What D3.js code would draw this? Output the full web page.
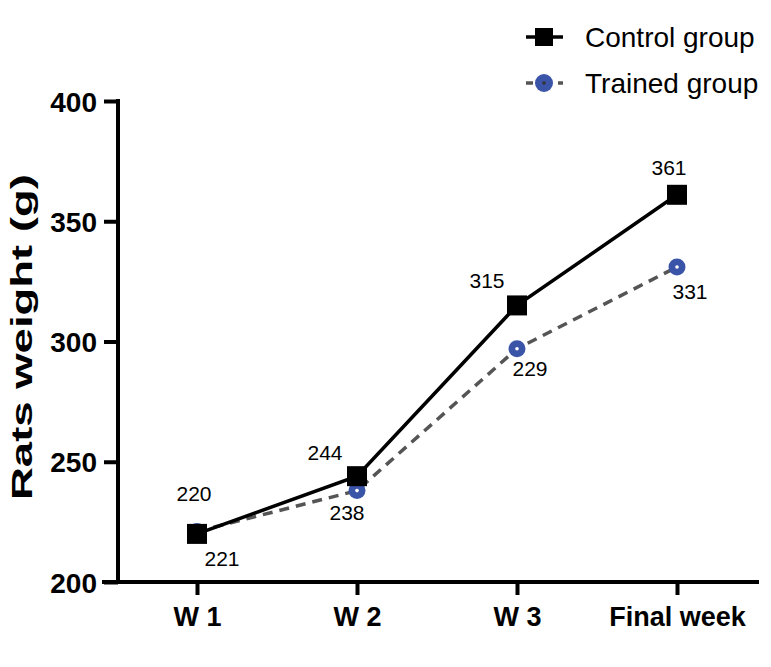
<!DOCTYPE html>
<html>
<head>
<meta charset="utf-8">
<script src="https://cdn.jsdelivr.net/npm/d3@7"></script>
<style>
  body { margin: 0; background: #fff; }
  text { font-family: "Liberation Sans", Arial, sans-serif; }
</style>
</head>
<body>
<div id="chart"></div>
<script>
// data
var weeks = ["W 1", "W 2", "W 3", "Final week"];
var controlValues = [220, 244, 315, 361];
var controlLabels = ["220", "244", "315", "361"];
var trainedValues = [221, 238, 297, 331];
var trainedLabels = ["221", "238", "229", "331"];
var yTicks = [200, 250, 300, 350, 400];

// label offsets (dx, dy) relative to point
var controlOffsets = [[-3, -40], [-32, -24], [-30, -25], [-8, -27]];
var trainedOffsets = [[25, 27], [-10, 22], [13, 20], [13, 24]];

var W = 771, H = 667;
var svg = d3.select("#chart").append("svg")
  .attr("width", W).attr("height", H);

var x = d3.scalePoint().domain(weeks).range([117, 757]).padding(0.5);
var y = d3.scaleLinear().domain([200, 400]).range([582, 101]);

//x axis
var xAxis = svg.append("g")
  .attr("transform", "translate(0,582)")
  .call(d3.axisBottom(x).tickSize(13).tickPadding(12));
xAxis.select(".domain").attr("d", "M102,0H759").attr("stroke", "#000").attr("stroke-width", 4);
xAxis.selectAll(".tick line").attr("stroke", "#000").attr("stroke-width", 4);
xAxis.selectAll(".tick text")
  .attr("fill", "#000")
  .style("font-size", "27px")
  .style("font-weight", "bold");

//y axis
var yAxis = svg.append("g")
  .attr("transform", "translate(118,0)")
  .call(d3.axisLeft(y).tickValues(yTicks).tickSize(14).tickPadding(7));
yAxis.select(".domain").attr("d", "M0,99V584").attr("stroke", "#000").attr("stroke-width", 4);
yAxis.selectAll(".tick line").attr("stroke", "#000").attr("stroke-width", 4);
yAxis.selectAll(".tick text")
  .attr("fill", "#000")
  .attr("dy", "0.36em")
  .style("font-size", "28px")
  .style("font-weight", "bold");

svg.append("text")
  .attr("transform", "translate(32,337) rotate(-90)")
  .attr("text-anchor", "middle")
  .attr("textLength", 326)
  .attr("lengthAdjust", "spacingAndGlyphs")
  .style("font-size", "30px")
  .style("font-weight", "bold")
  .text("Rats weight (g)");

var line = d3.line()
  .x(function (d, i) { return x(weeks[i]); })
  .y(function (d) { return y(d); });

// trained group
svg.append("path")
  .datum(trainedValues)
  .attr("d", line)
  .attr("fill", "none")
  .attr("stroke", "#555")
  .attr("stroke-width", 3.5)
  .attr("stroke-dasharray", "10,7");

svg.selectAll("circle.trained")
  .data(trainedValues)
  .enter().append("circle")
  .attr("class", "trained")
  .attr("cx", function (d, i) { return x(weeks[i]); })
  .attr("cy", function (d) { return y(d); })
  .attr("r", 8.5)
  .attr("fill", "#3a54a8");
svg.selectAll("circle.dot")
  .data(trainedValues)
  .enter().append("circle")
  .attr("class", "dot")
  .attr("cx", function (d, i) { return x(weeks[i]); })
  .attr("cy", function (d) { return y(d); })
  .attr("r", 1.8)
  .attr("fill", "#fff");

// control group
svg.append("path")
  .datum(controlValues)
  .attr("d", line)
  .attr("fill", "none")
  .attr("stroke", "#000")
  .attr("stroke-width", 3.5);

svg.selectAll("rect.control")
  .data(controlValues)
  .enter().append("rect")
  .attr("class", "control")
  .attr("x", function (d, i) { return x(weeks[i]) - 10; })
  .attr("y", function (d) { return y(d) - 10; })
  .attr("width", 20).attr("height", 20)
  .attr("fill", "#000");

// value labels
svg.selectAll("text.clab")
  .data(controlValues)
  .enter().append("text")
  .attr("class", "clab")
  .attr("x", function (d, i) { return x(weeks[i]) + controlOffsets[i][0]; })
  .attr("y", function (d, i) { return y(d) + controlOffsets[i][1]; })
  .attr("text-anchor", "middle")
  .attr("dy", "0.36em")
  .style("font-size", "21px")
  .text(function (d, i) { return controlLabels[i]; });

svg.selectAll("text.tlab")
  .data(trainedValues)
  .enter().append("text")
  .attr("class", "tlab")
  .attr("x", function (d, i) { return x(weeks[i]) + trainedOffsets[i][0]; })
  .attr("y", function (d, i) { return y(d) + trainedOffsets[i][1]; })
  .attr("text-anchor", "middle")
  .attr("dy", "0.36em")
  .style("font-size", "21px")
  .text(function (d, i) { return trainedLabels[i]; });

// legend
var lg = svg.append("g");
lg.append("line").attr("x1", 526).attr("x2", 563).attr("y1", 37).attr("y2", 37)
  .attr("stroke", "#000").attr("stroke-width", 3.5);
lg.append("rect").attr("x", 535).attr("y", 28).attr("width", 18).attr("height", 18).attr("fill", "#000");
lg.append("text").attr("x", 585).attr("y", 37).attr("dy", "0.36em")
  .style("font-size", "28px").text("Control group");

lg.append("line").attr("x1", 526).attr("x2", 563).attr("y1", 83).attr("y2", 83)
  .attr("stroke", "#555").attr("stroke-width", 3.5).attr("stroke-dasharray", "7,25,5");
lg.append("circle").attr("cx", 544).attr("cy", 83).attr("r", 9).attr("fill", "#3a54a8");
lg.append("circle").attr("cx", 544).attr("cy", 83).attr("r", 1.8).attr("fill", "#333");
lg.append("text").attr("x", 585).attr("y", 83).attr("dy", "0.36em")
  .style("font-size", "28px").text("Trained group");
</script>
</body>
</html>
